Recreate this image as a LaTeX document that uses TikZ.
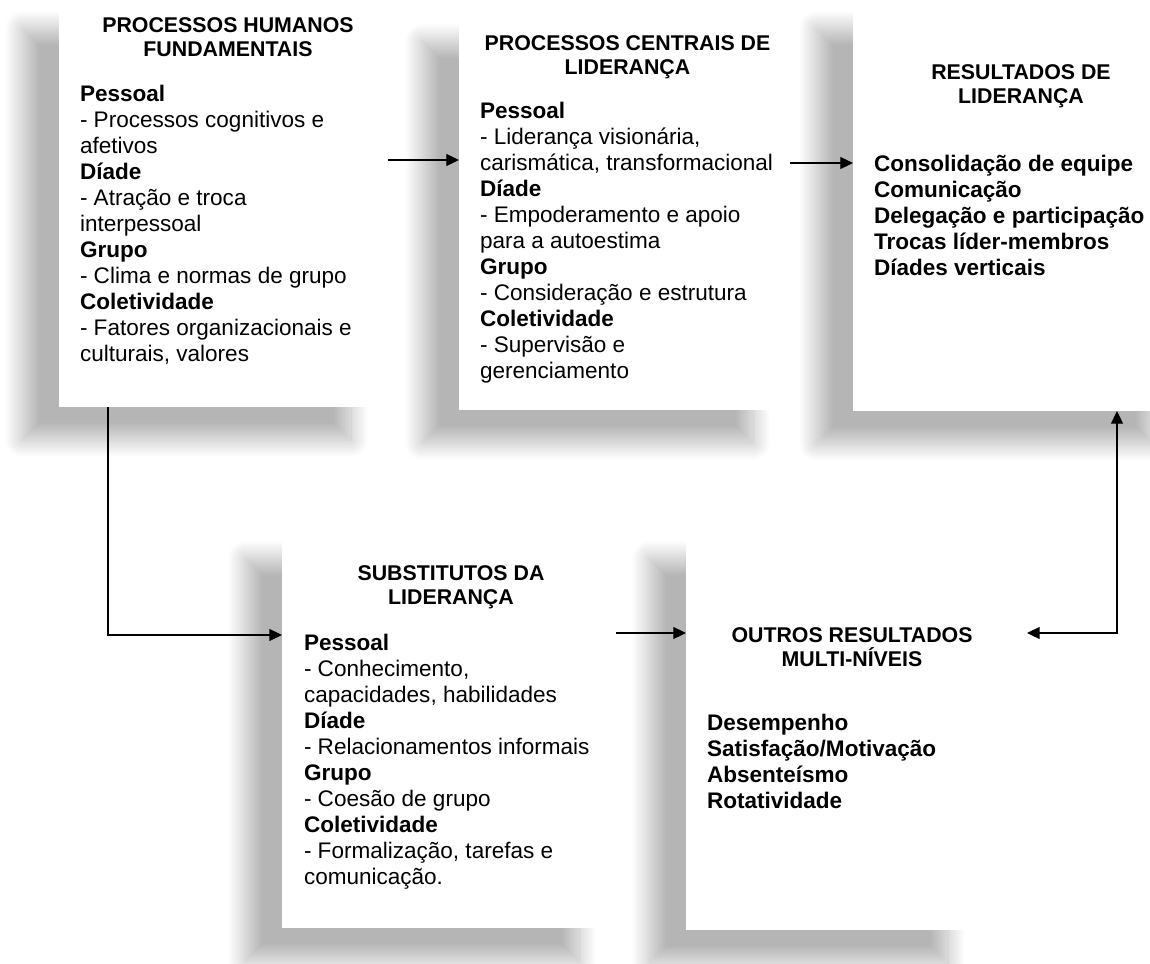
\documentclass[tikz,border=0pt]{standalone}
\usepackage{fontspec}
\setmainfont{Liberation Sans}
\usetikzlibrary{shadows.blur,arrows.meta,calc}
\setlength{\lineskiplimit}{-10pt}

\begin{document}
\begin{tikzpicture}[x=0.75pt,y=-0.75pt,>={Triangle[length=9.5pt,width=9pt]},
	caixa/.style={rectangle,fill=white,inner sep=0,outer sep=0,anchor=north west,
		blur shadow={shadow xshift=-27.75pt,shadow yshift=-24.75pt,shadow opacity=29,
		shadow blur radius=13pt,shadow blur steps=24}},
	titulo/.style={anchor=north,align=center,inner sep=0,outer sep=0,
		font=\fontsize{16}{18.5}\selectfont\bfseries},
	corpo/.style={anchor=north west,align=left,inner sep=0,outer sep=0,
		font=\fontsize{16.9}{19.5}\selectfont},
	seta/.style={line width=0.8pt}]
		\clip (0,0) rectangle (1150,964);
		\node[caixa,minimum width=246.75pt,minimum height=309pt] (phf) at (59,-5) {};
		\node[caixa,minimum width=248.25pt,minimum height=301.5pt] (pcl) at (459,8) {};
		\node[caixa,minimum width=252.75pt,minimum height=312pt] (res) at (853,-5) {};
		\node[caixa,minimum width=250.5pt,minimum height=302.25pt] (sub) at (282,525) {};
		\node[caixa,minimum width=224.25pt,minimum height=303.75pt] (out) at (686,525) {};

		\node[titulo] (phf-t) at (228,15) {\strut PROCESSOS HUMANOS\\FUNDAMENTAIS};
		\node[corpo] (phf-c) at (80,83) {\strut\textbf{Pessoal}\\- Processos cognitivos e\\afetivos\\\textbf{Díade}\\- Atração e troca\\interpessoal\\\textbf{Grupo}\\- Clima e normas de grupo\\\textbf{Coletividade}\\- Fatores organizacionais e\\culturais, valores};

		\node[titulo] (pcl-t) at (627.5,33) {\strut PROCESSOS CENTRAIS DE\\LIDERANÇA};
		\node[corpo] (pcl-c) at (480,100) {\strut\textbf{Pessoal}\\- Liderança visionária,\\carismática, transformacional\\\textbf{Díade}\\- Empoderamento e apoio\\para a autoestima\\\textbf{Grupo}\\- Consideração e estrutura\\\textbf{Coletividade}\\- Supervisão e\\gerenciamento};

		\node[titulo] (res-t) at (1021,62) {\strut RESULTADOS DE\\LIDERANÇA};
		\node[corpo,font=\fontsize{16.9}{19.5}\selectfont\bfseries] (res-c) at (874,153) {\strut Consolidação de equipe\\Comunicação\\Delegação e participação\\Trocas líder-membros\\Díades verticais};

		\node[titulo] (sub-t) at (451,563) {\strut SUBSTITUTOS DA\\LIDERANÇA};
		\node[corpo] (sub-c) at (304,632) {\strut\textbf{Pessoal}\\- Conhecimento,\\capacidades, habilidades\\\textbf{Díade}\\- Relacionamentos informais\\\textbf{Grupo}\\- Coesão de grupo\\\textbf{Coletividade}\\- Formalização, tarefas e\\comunicação.};

		\node[titulo] (out-t) at (852,625) {\strut OUTROS RESULTADOS\\MULTI-NÍVEIS};
		\node[corpo,font=\fontsize{16.9}{19.5}\selectfont\bfseries] (out-c) at (707,712) {\strut Desempenho\\Satisfação/Motivação\\Absenteísmo\\Rotatividade};

		\draw[seta,->] (phf.east |- 0,160) -- (pcl.west |- 0,160);
		\draw[seta,->] (pcl.east |- 0,163) -- (res.west |- 0,163);
		\draw[seta,->] (phf.south -| 108,0) |- (sub.west |- 0,635);
		\draw[seta,->] (sub.east |- 0,633) -- (out.west |- 0,633);
		\draw[seta,<->] ($(out.east |- 0,633)+(42,0)$) -| (res.south -| 1117,0);
	\end{tikzpicture}
\end{document}
